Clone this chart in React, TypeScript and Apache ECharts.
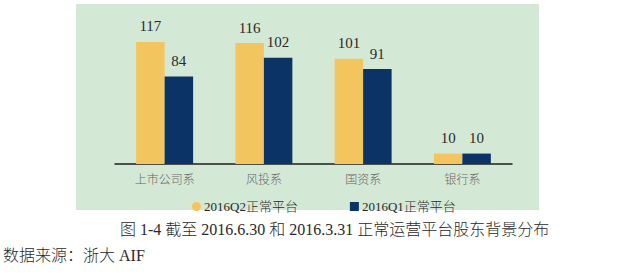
import React, { useEffect, useRef } from "react";
import * as echarts from "echarts";

const categories = ["上市公司系", "风投系", "国资系", "银行系"];
const q2Values = [117, 116, 101, 10];
const q1Values = [84, 102, 91, 10];
const seriesNames = ["2016Q2正常平台", "2016Q1正常平台"];
const captionText = "图 1-4 截至 2016.6.30 和 2016.3.31 正常运营平台股东背景分布";
const sourceText = "数据来源：浙大 AIF";

const SERIF = "'Liberation Serif', 'Times New Roman', 'Noto Sans CJK SC', serif";
const CJK = "'Noto Sans CJK SC', 'Liberation Serif', serif";

export default function App() {
  const ref = useRef<HTMLDivElement>(null);
  useEffect(() => {
    if (!ref.current) return;
    const chart = echarts.init(ref.current, null, { renderer: "svg" });
    const labelStyle = {
      show: true,
      position: "top" as const,
      distance: 8,
      fontFamily: SERIF,
      fontSize: 15,
      color: "#2a2a2a",
    };
    chart.setOption({
      animation: false,
      backgroundColor: "#ffffff",
      graphic: [
        {
          type: "rect",
          z: -10,
          silent: true,
          shape: { x: 76, y: 4, width: 463, height: 206 },
          style: { fill: "#d4e8d6" },
        },
        {
          type: "text",
          left: 120,
          top: 221,
          style: {
            text: captionText,
            font: `300 16px ${SERIF}`,
            fill: "#2a2a2a",
          },
        },
        {
          type: "text",
          left: 3,
          top: 247,
          style: {
            text: sourceText,
            font: `300 16px ${SERIF}`,
            fill: "#2a2a2a",
          },
        },
      ],
      legend: {
        top: 195,
        left: 187,
        itemGap: 52,
        itemWidth: 9,
        itemHeight: 9,
        data: [
          { name: seriesNames[0], icon: "circle" },
          { name: seriesNames[1], icon: "rect" },
        ],
        textStyle: {
          fontFamily: SERIF,
          fontWeight: 300,
          fontSize: 13,
          color: "#2a2a2a",
          padding: [0, 0, 0, -2],
        },
      },
      grid: { left: 115, right: 128, top: 18, height: 146 },
      xAxis: {
        type: "category",
        data: categories,
        axisTick: { show: false },
        axisLine: { lineStyle: { color: "#1e1e1e", width: 1.5 } },
        axisLabel: {
          fontFamily: CJK,
          fontWeight: 300,
          fontSize: 12,
          color: "#666666",
          margin: 8,
        },
      },
      yAxis: {
        type: "value",
        min: 0,
        max: 140,
        show: false,
        splitLine: { show: false },
      },
      series: [
        {
          name: seriesNames[0],
          type: "bar",
          data: q2Values,
          barWidth: "28.7%",
          barGap: "0%",
          itemStyle: { color: "#f3c55e" },
          label: labelStyle,
        },
        {
          name: seriesNames[1],
          type: "bar",
          data: q1Values,
          barWidth: "28.7%",
          itemStyle: { color: "#0b3366" },
          label: labelStyle,
        },
      ],
    });
    return () => chart.dispose();
  }, []);
  return (
    <div
      ref={ref}
      style={{ position: "absolute", left: 0, top: 0, width: 640, height: 277 }}
    />
  );
}
